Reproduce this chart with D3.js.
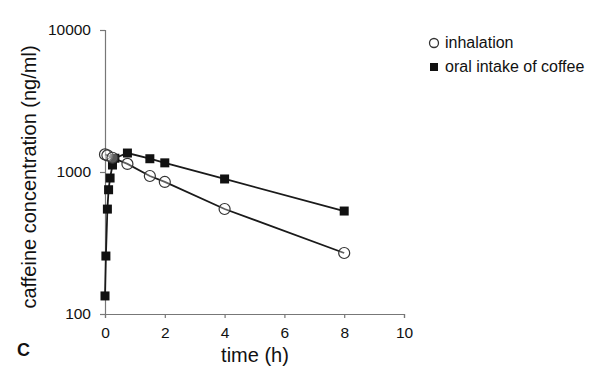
<!DOCTYPE html>
<html>
<head>
<meta charset="utf-8">
<title>caffeine</title>
<script src="https://d3js.org/d3.v7.min.js"></script>
<style>
  body { margin:0; background:#fff; }
  text { font-family: "Liberation Sans", Arial, sans-serif; fill:#111; }
</style>
</head>
<body>
<svg id="chart" width="605" height="378"></svg>
<script>
// data
var inhalTime = [0, 0.08, 0.25, 0.75, 1.5, 2, 4, 8];
var inhalConc = [1330, 1310, 1260, 1140, 937, 851, 549, 269];

var oralTime = [0, 0.03, 0.08, 0.12, 0.17, 0.25, 0.33, 0.75, 1.5, 2, 4, 8];
var oralConc = [134, 256, 548, 750, 907, 1120, 1250, 1360, 1240, 1160, 893, 531];

var xTicks = [0, 2, 4, 6, 8, 10];
var yTicks = [100, 1000, 10000];

var svg = d3.select("#chart");

var x = d3.scaleLinear().domain([0, 10]).range([105, 404]);
var y = d3.scaleLog().domain([100, 10000]).range([314, 30]);

// axes
var xAxis = svg.append("g").attr("transform", "translate(0,314)")
  .call(d3.axisBottom(x).tickValues(xTicks).tickSize(4).tickPadding(9).tickFormat(d3.format("d")));
var yAxis = svg.append("g").attr("transform", "translate(105,0)")
  .call(d3.axisLeft(y).tickValues(yTicks).tickSize(5).tickPadding(9).tickFormat(d3.format("d")));

[xAxis, yAxis].forEach(function (g) {
  g.select(".domain").attr("stroke", "#777").attr("stroke-width", 1.2);
  g.selectAll(".tick line").attr("stroke", "#777").attr("stroke-width", 1.2);
  g.selectAll(".tick text").attr("font-size", 15.5).attr("fill", "#111")
    .attr("font-family", "Liberation Sans, Arial, sans-serif");
});

// lines
var line = d3.line().x(function (d) { return x(d[0]); }).y(function (d) { return y(d[1]); });
var inhal = inhalTime.map(function (t, i) { return [t, inhalConc[i]]; });
var oral = oralTime.map(function (t, i) { return [t, oralConc[i]]; });

svg.append("path").datum(oral).attr("d", line)
  .attr("fill", "none").attr("stroke", "#1a1a1a").attr("stroke-width", 1.8);
svg.append("path").datum(inhal).attr("d", line)
  .attr("fill", "none").attr("stroke", "#1a1a1a").attr("stroke-width", 1.8);

// markers
svg.selectAll(".sq").data(oral).enter().append("rect")
  .attr("class", "sq")
  .attr("x", function (d) { return x(d[0]) - 4.5; })
  .attr("y", function (d) { return y(d[1]) - 4.5; })
  .attr("width", 9).attr("height", 9).attr("fill", "#111");

svg.selectAll(".ci").data(inhal).enter().append("circle")
  .attr("class", "ci")
  .attr("cx", function (d) { return x(d[0]); })
  .attr("cy", function (d) { return y(d[1]); })
  .attr("r", 5.5).attr("fill", "#fff").attr("fill-opacity", 0.3)
  .attr("stroke", "#333").attr("stroke-width", 1.2);

// axis titles
svg.append("text").attr("x", 255).attr("y", 362).attr("text-anchor", "middle")
  .attr("font-size", 20).text("time (h)");
svg.append("text").attr("transform", "translate(36,177) rotate(-90)")
  .attr("text-anchor", "middle").attr("font-size", 20).text("caffeine concentration (ng/ml)");
svg.append("text").attr("x", 17).attr("y", 356).attr("font-size", 18)
  .attr("font-weight", "bold").text("C");

// legend
var legend = svg.append("g");
legend.append("circle").attr("cx", 434).attr("cy", 43).attr("r", 4.5)
  .attr("fill", "none").attr("stroke", "#333").attr("stroke-width", 1.3);
legend.append("text").attr("x", 445).attr("y", 48).attr("font-size", 16).text("inhalation");
legend.append("rect").attr("x", 430).attr("y", 63).attr("width", 8).attr("height", 8).attr("fill", "#111");
legend.append("text").attr("x", 445).attr("y", 72).attr("font-size", 16).text("oral intake of coffee");
</script>
</body>
</html>
